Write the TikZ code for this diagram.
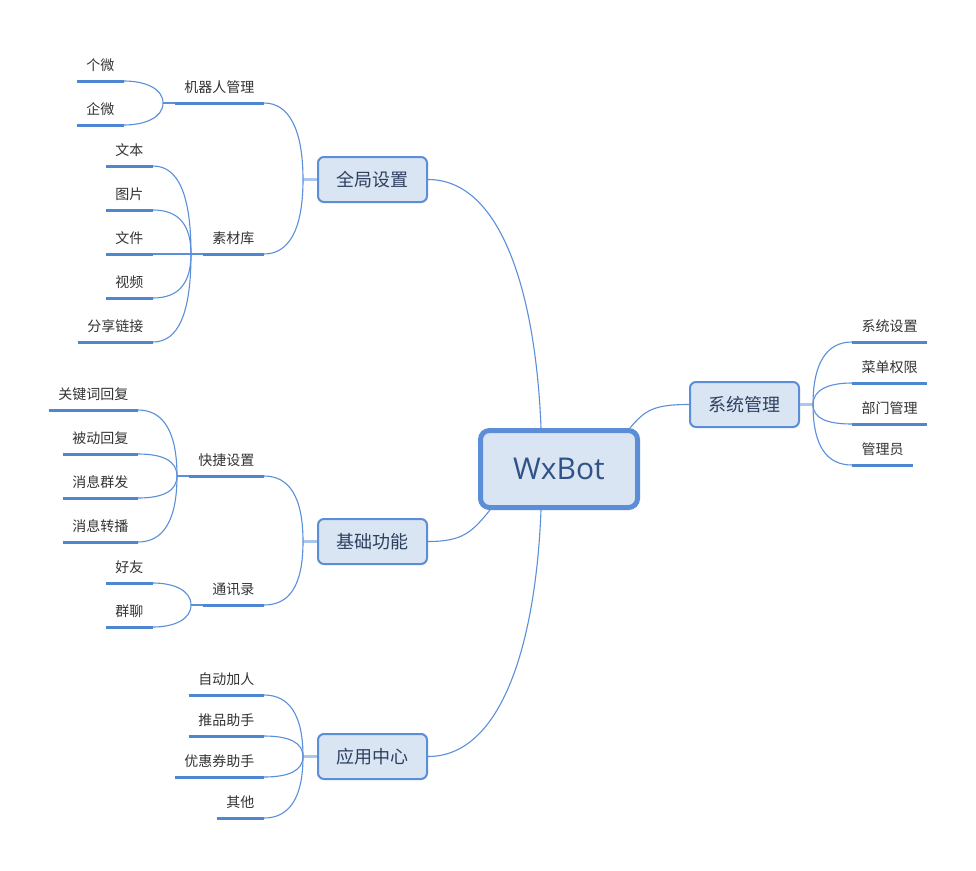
\documentclass[tikz,border=0pt]{standalone}
\usepackage{fontspec}
\newfontfamily\cjk{Noto Sans CJK SC}
\newfontfamily\wxlatin{Open Sans}
\definecolor{bord}{HTML}{5B8ED6}
\definecolor{boxfill}{HTML}{DAE5F3}
\definecolor{conncol}{HTML}{5B8FDA}
\definecolor{ulcol}{HTML}{4F86D0}
\definecolor{stubcol}{HTML}{A9C7EE}
\definecolor{leaftext}{HTML}{333333}
\definecolor{boxtext}{HTML}{2D4060}
\definecolor{roottext}{HTML}{2F5387}
\begin{document}
\begin{tikzpicture}[x=1pt,y=-1pt,
  rootbox/.style={draw=bord, fill=boxfill, line width=5pt, rounded corners=9pt,
    minimum width=157pt, minimum height=77pt, inner sep=0pt,
    font=\wxlatin\fontsize{30}{36}\selectfont, text=roottext},
  mainbox/.style={draw=bord, fill=boxfill, line width=2pt, rounded corners=6pt,
    minimum width=109pt, minimum height=45pt, inner sep=0pt,
    font=\cjk\fontsize{18}{22}\selectfont, text=boxtext},
  leaf/.style={inner xsep=9.5pt, inner ysep=0pt, text height=11pt, text depth=10.7pt,
    font=\cjk\fontsize{14}{17}\selectfont, text=leaftext},
  uline/.style={draw=ulcol, line width=3pt},
  conn/.style={draw=conncol, line width=1.1pt},
  stub/.style={draw=stubcol, line width=3pt},
]
\useasboundingbox (0,0) rectangle (976,870);
\fill[white] (0,0) rectangle (976,870);

% ---------- boxes ----------
\node[rootbox] (root) at (559,469) {WxBot};
\node[mainbox] (g) at (372.5,179.5) {全局设置};
\node[mainbox] (j) at (372.5,541.5) {基础功能};
\node[mainbox] (a) at (372.5,756.5) {应用中心};
\node[mainbox] (s) at (744.5,404.5) {系统管理};

% ---------- forks ----------
\coordinate (g1) at (303,179.5);
\coordinate (j1) at (303,541.5);
\coordinate (a1) at (303,756.5);
\coordinate (s1) at (813,404.5);

% ---------- leaves: 全局设置 ----------
\node[leaf, anchor=south east] (robot) at (264,103) {机器人管理};
\node[leaf, anchor=south east] (gw) at (124,81) {个微};
\node[leaf, anchor=south east] (qw) at (124,125) {企微};
\node[leaf, anchor=south east] (lib) at (264,254) {素材库};
\node[leaf, anchor=south east] (txt) at (153,166) {文本};
\node[leaf, anchor=south east] (pic) at (153,210) {图片};
\node[leaf, anchor=south east] (fil) at (153,254) {文件};
\node[leaf, anchor=south east] (vid) at (153,298) {视频};
\node[leaf, anchor=south east] (lnk) at (153,342) {分享链接};
\coordinate (r1) at (163,103);
\coordinate (l1) at (191,254);

% ---------- leaves: 基础功能 ----------
\node[leaf, anchor=south east] (quick) at (264,476) {快捷设置};
\node[leaf, anchor=south east] (kw) at (138,410) {关键词回复};
\node[leaf, anchor=south east] (pas) at (138,454) {被动回复};
\node[leaf, anchor=south east] (grp) at (138,498) {消息群发};
\node[leaf, anchor=south east] (fwd) at (138,542) {消息转播};
\node[leaf, anchor=south east] (cont) at (264,605) {通讯录};
\node[leaf, anchor=south east] (fr) at (153,583) {好友};
\node[leaf, anchor=south east] (qc) at (153,627) {群聊};
\coordinate (q1) at (177,476);
\coordinate (c1) at (191,605);

% ---------- leaves: 应用中心 ----------
\node[leaf, anchor=south east] (auto) at (264,695) {自动加人};
\node[leaf, anchor=south east] (push) at (264,736) {推品助手};
\node[leaf, anchor=south east] (coup) at (264,777) {优惠券助手};
\node[leaf, anchor=south east] (oth) at (264,818) {其他};

% ---------- leaves: 系统管理 ----------
\node[leaf, anchor=south west] (sys) at (852,342) {系统设置};
\node[leaf, anchor=south west] (menu) at (852,383) {菜单权限};
\node[leaf, anchor=south west] (dept) at (852,424) {部门管理};
\node[leaf, anchor=south west] (adm) at (852,465) {管理员};

% ---------- root connectors ----------
\draw[conn] (g.east) .. controls +(75,0) and +(-5,-130) .. ([xshift=-18pt]root.north);
\draw[conn] (a.east) .. controls +(75,0) and +(-5,130) .. ([xshift=-18pt]root.south);
\draw[conn] (j.east) .. controls +(35,0) and +(-18,22) .. ([xshift=-69pt]root.south);
\draw[conn] ([xshift=71pt]root.north) .. controls +(15,-18) and +(-35,0) .. (s.west);

% ---------- stubs ----------
\draw[stub] (g.west) -- (g1);
\draw[stub] (j.west) -- (j1);
\draw[stub] (a.west) -- (a1);
\draw[stub] (s.east) -- (s1);

% ---------- 全局设置 connectors ----------
\draw[conn] (g1) .. controls +(0,-50) and +(25,0) .. (robot.south east);
\draw[conn] (g1) .. controls +(0,50) and +(25,0) .. (lib.south east);
\draw[conn] (robot.south west) -- (r1);
\draw[conn] (r1) .. controls +(0,-15) and +(20,0) .. (gw.south east);
\draw[conn] (r1) .. controls +(0,15) and +(20,0) .. (qw.south east);
\draw[conn] (lib.south west) -- (l1);
\draw[conn] (l1) .. controls +(0,-60) and +(25,0) .. (txt.south east);
\draw[conn] (l1) .. controls +(0,-30) and +(25,0) .. (pic.south east);
\draw[conn] (l1) -- (fil.south east);
\draw[conn] (l1) .. controls +(0,30) and +(25,0) .. (vid.south east);
\draw[conn] (l1) .. controls +(0,60) and +(25,0) .. (lnk.south east);

% ---------- 基础功能 connectors ----------
\draw[conn] (j1) .. controls +(0,-45) and +(25,0) .. (quick.south east);
\draw[conn] (j1) .. controls +(0,45) and +(25,0) .. (cont.south east);
\draw[conn] (quick.south west) -- (q1);
\draw[conn] (q1) .. controls +(0,-45) and +(25,0) .. (kw.south east);
\draw[conn] (q1) .. controls +(0,-15) and +(25,0) .. (pas.south east);
\draw[conn] (q1) .. controls +(0,15) and +(25,0) .. (grp.south east);
\draw[conn] (q1) .. controls +(0,45) and +(25,0) .. (fwd.south east);
\draw[conn] (cont.south west) -- (c1);
\draw[conn] (c1) .. controls +(0,-15) and +(20,0) .. (fr.south east);
\draw[conn] (c1) .. controls +(0,15) and +(20,0) .. (qc.south east);

% ---------- 应用中心 connectors ----------
\draw[conn] (a1) .. controls +(0,-42) and +(25,0) .. (auto.south east);
\draw[conn] (a1) .. controls +(0,-14) and +(25,0) .. (push.south east);
\draw[conn] (a1) .. controls +(0,14) and +(25,0) .. (coup.south east);
\draw[conn] (a1) .. controls +(0,42) and +(25,0) .. (oth.south east);

% ---------- 系统管理 connectors ----------
\draw[conn] (s1) .. controls +(0,-42) and +(-25,0) .. (sys.south west);
\draw[conn] (s1) .. controls +(0,-14) and +(-25,0) .. (menu.south west);
\draw[conn] (s1) .. controls +(0,14) and +(-25,0) .. (dept.south west);
\draw[conn] (s1) .. controls +(0,42) and +(-25,0) .. (adm.south west);

% ---------- underlines ----------
\foreach \n in {robot,gw,qw,lib,txt,pic,fil,vid,lnk,quick,kw,pas,grp,fwd,cont,fr,qc,auto,push,coup,oth,sys,menu,dept,adm}
  \draw[uline] (\n.south west) -- (\n.south east);
\end{tikzpicture}
\end{document}
